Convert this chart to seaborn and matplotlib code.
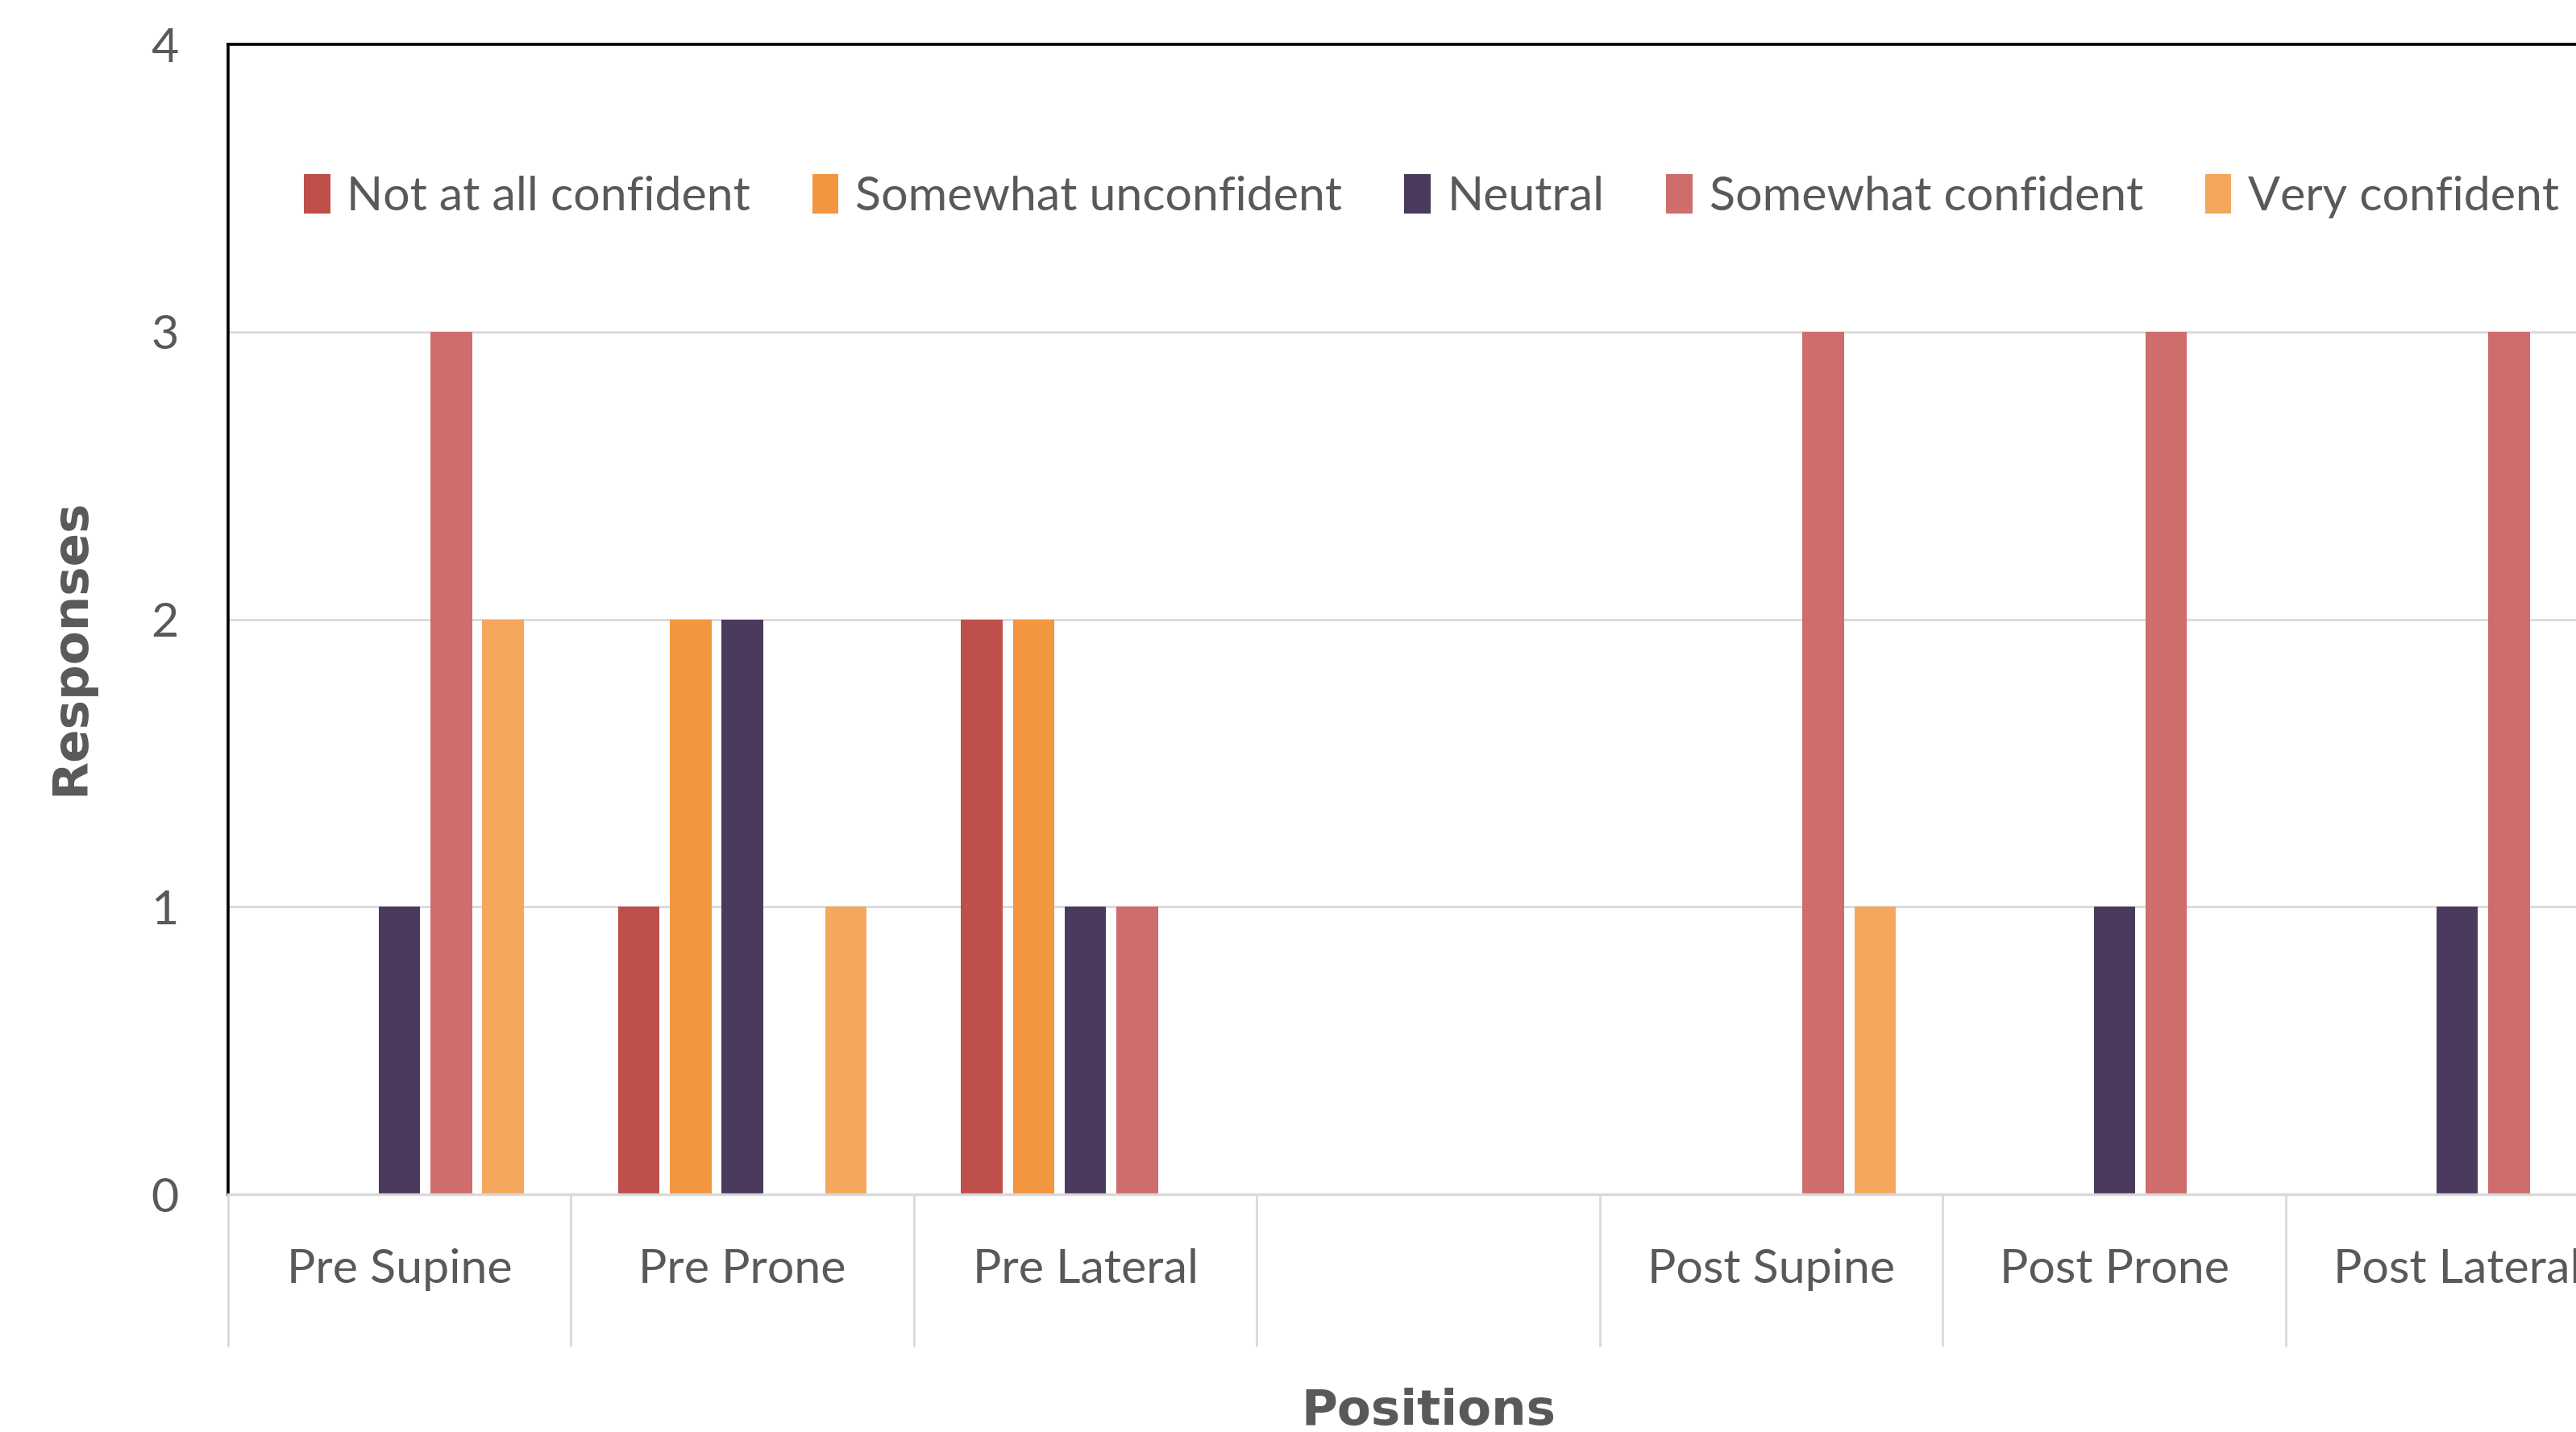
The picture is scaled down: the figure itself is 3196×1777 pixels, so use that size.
import numpy as np
import pandas as pd
import seaborn as sns
import matplotlib.pyplot as plt

# categories on the x axis (the 4th one is an empty spacer column)
positions = ["Pre Supine", "Pre Prone", "Pre Lateral", "", "Post Supine", "Post Prone", "Post Lateral"]
levels = ["Not at all confident", "Somewhat unconfident", "Neutral", "Somewhat confident", "Very confident"]

# responses per confidence level, one value per position
not_at_all = [0, 1, 2, 0, 0, 0, 0]
somewhat_unconf = [0, 2, 2, 0, 0, 0, 0]
neutral = [1, 2, 1, 0, 0, 1, 1]
somewhat_conf = [3, 0, 1, 0, 3, 3, 3]
very_conf = [2, 1, 0, 0, 1, 0, 0]

colors = ["#BE4F4B", "#F2963F", "#4B3A5E", "#CF6D6D", "#F6A75E"]
y_ticks = [0, 1, 2, 3, 4]

rows = []
for lvl, vals in zip(levels, [not_at_all, somewhat_unconf, neutral, somewhat_conf, very_conf]):
    for p, v in zip(positions, vals):
        rows.append([p, lvl, v])
df = pd.DataFrame(rows, columns=["Position", "Confidence", "Responses"])

sns.set_style("white")
plt.rcParams['font.family'] = ['Lato', 'DejaVu Sans']
text_gray = "#595959"
grid_gray = "#D9D9D9"

fig = plt.figure(figsize=(15.98, 8.885), dpi=200)
ax = fig.add_axes([0.0885, 0.166, 0.932, 0.803])

sns.barplot(data=df, x="Position", y="Responses", hue="Confidence",
            order=positions, hue_order=levels, palette=colors, saturation=1,
            width=0.755, gap=0.2, errorbar=None, linewidth=0, ax=ax)

# y axis
ax.set_ylim(0, 4)
ax.set_yticks(y_ticks)
ax.yaxis.grid(True, color=grid_gray, linewidth=1.0)
ax.set_axisbelow(True)
ax.tick_params(axis='y', length=0, pad=22, labelsize=21.3, labelcolor=text_gray)

# x axis with category separators
ax.set_xlim(-0.5, len(positions) - 0.5)
ax.set_xticks(range(len(positions)))
ax.set_xticklabels(positions)
ax.set_xticks(np.arange(-0.5, len(positions), 1), minor=True)
ax.tick_params(axis='x', which='major', length=0, pad=24, labelsize=21.3, labelcolor=text_gray)
ax.tick_params(axis='x', which='minor', bottom=True, length=68, width=1.0, color=grid_gray, direction='out')

for side in ["top", "left", "right"]:
    ax.spines[side].set_color("black")
    ax.spines[side].set_linewidth(1.3)
ax.spines["bottom"].set_color(grid_gray)
ax.spines["bottom"].set_linewidth(1.2)

# axis titles
ax.set_ylabel("Responses", fontsize=22, fontweight='bold', color=text_gray, family=['DejaVu Sans'])
ax.set_xlabel("Positions", fontsize=22, fontweight='bold', color=text_gray, family=['DejaVu Sans'])
ax.yaxis.set_label_coords(-0.0554, 0.476)
ax.xaxis.set_label_coords(0.5, -0.168)

# legend inside the plot, in one row
ax.legend(loc="center left", bbox_to_anchor=(0.0316, 0.868), ncol=5, frameon=False,
          fontsize=21.3, labelcolor=text_gray, handlelength=0.55, handleheight=0.9,
          handletextpad=0.35, columnspacing=1.3, borderaxespad=0, borderpad=0)

plt.savefig("out.png", dpi=200)
